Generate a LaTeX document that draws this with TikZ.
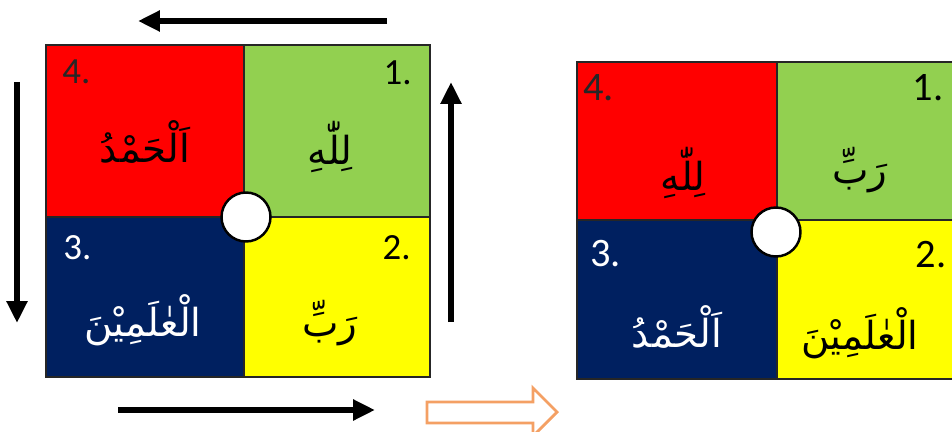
\documentclass[tikz,border=0pt]{standalone}
\usepackage{fontspec}
\setmainfont{Carlito}
\newfontfamily\arabicfont[Script=Arabic]{DejaVu Sans}
\TeXXeTstate=1
\usetikzlibrary{arrows.meta}
\definecolor{qred}{RGB}{255,0,0}
\definecolor{qgreen}{RGB}{146,208,80}
\definecolor{qyellow}{RGB}{255,255,0}
\definecolor{qnavy}{RGB}{0,32,96}
\definecolor{hollowline}{RGB}{244,160,100}
\tikzset{
  cell/.style={draw=black!85, line width=0.8pt},
  numleft/.style={font=\fontsize{21}{21}\selectfont, anchor=base west, inner sep=0pt},
  numright/.style={font=\fontsize{21}{21}\selectfont, anchor=base east, inner sep=0pt},
  word/.style={font=\arabicfont\fontsize{22}{26}\selectfont, inner sep=0pt},
  hub/.style={circle, draw=black, fill=white, line width=1.4pt,
    minimum size=0.98cm, inner sep=0pt},
  turnarrow/.style={-{Triangle[length=0.44cm,width=0.4cm]}, line width=0.13cm},
  shiftarrow/.style={draw=hollowline, line width=1.6pt, line join=miter},
}

\begin{document}
\begin{tikzpicture}[x=0.02cm, y=-0.02cm]
  \clip (0,0) rectangle (952,432);

  %% Before: the four cells
  \draw[cell, fill=qred]    (46,45)   rectangle (244,217);
  \draw[cell, fill=qgreen]  (244,45)  rectangle (430,217);
  \draw[cell, fill=qnavy]   (46,217)  rectangle (244,377);
  \draw[cell, fill=qyellow] (244,217) rectangle (430,377);

  \node[numleft, text=black!85]  (a4) at (62,84)   {4.};
  \node[numright]                (a1) at (412,85)  {1.};
  \node[numleft, text=white]     (a3) at (63,259)  {3.};
  \node[numright]                (a2) at (411,259) {2.};

  \node[word] (aw4) at (145,142) {\beginR اَلْحَمْدُ\endR};
  \node[word] (aw1) at (330,147) {\beginR لِلّٰهِ\endR};
  \node[word, text=white] (aw3) at (143,320) {\beginR الْعٰلَمِيْنَ\endR};
  \node[word] (aw2) at (330,323) {\beginR رَبِّ\endR};

  \node[hub] (hubA) at (246,217) {};

  %% Turning arrows round the square
  \coordinate (topTail) at (387,21);
  \coordinate (topTip)  at (138,21);
  \coordinate (leftTail) at (17,82);
  \coordinate (leftTip)  at (17,323);
  \coordinate (botTail) at (118,410);
  \coordinate (botTip)  at (375,410);
  \coordinate (rightTail) at (451,322);
  \coordinate (rightTip)  at (451,82);
  \draw[turnarrow] (topTail) -- (topTip);
  \draw[turnarrow] (leftTail) -- (leftTip);
  \draw[turnarrow] (botTail) -- (botTip);
  \draw[turnarrow] (rightTail) -- (rightTip);

  %% Hollow arrow to the result
  \draw[shiftarrow] (427,402) -- (533,402) -- (533,388) -- (557,412)
    -- (533,436) -- (533,423) -- (427,423) -- cycle;

  %% After: the four cells
  \draw[cell, fill=qred]    (577,62)  rectangle (777,220);
  \draw[cell, fill=qgreen]  (777,62)  rectangle (962,220);
  \draw[cell, fill=qnavy]   (577,220) rectangle (777,379);
  \draw[cell, fill=qyellow] (777,220) rectangle (962,379);

  \node[numleft, text=black!85, font=\fontsize{23}{23}\selectfont]  (b4) at (583,101) {4.};
  \node[numright, font=\fontsize{23}{23}\selectfont]                (b1) at (944,101) {1.};
  \node[numleft, text=white, font=\fontsize{23}{23}\selectfont]     (b3) at (590,266) {3.};
  \node[numright, font=\fontsize{23}{23}\selectfont]                (b2) at (947,267) {2.};

  \node[word] (bw4) at (683,173) {\beginR لِلّٰهِ\endR};
  \node[word] (bw1) at (860,170) {\beginR رَبِّ\endR};
  \node[word, text=white] (bw3) at (677,327) {\beginR اَلْحَمْدُ\endR};
  \node[word] (bw2) at (860,333) {\beginR الْعٰلَمِيْنَ\endR};

  \node[hub] (hubB) at (776,232) {};
\end{tikzpicture}
\end{document}
